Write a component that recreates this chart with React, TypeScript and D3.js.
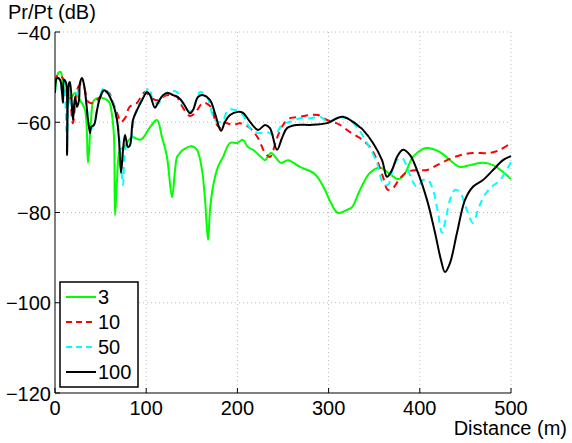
import React from "react";
import * as d3 from "d3";

const xTicks = [0, 100, 200, 300, 400, 500];
const yTicks = [-120, -100, -80, -60, -40];
const seriesNames = ["3", "10", "50", "100"];

const g3x = [0,2.2,4.4,6.6,7.7,11,14.3,17.5,21.9,27.4,32.9,36.2,39.5,42.8,51.5,59.2,62.5,64.7,65.8,68,71.3,75.7,81.1,84.4,93.2,96.5,104.2,111.8,117.3,122.8,128.3,131.6,133.8,137.1,140.4,150.2,155.7,161.2,164.5,167.8,170,173.2,178.7,184.2,191.9,199.6,206.1,211.6,217.1,225.9,230.3,236.8,247.8,255.5,268.6,285.1,296.1,302.6,310.3,320.2,325.7,334.4,345.4,356.4,367.3,376.1,382.7,392.5,403.5,409,422.1,433.1,444.1,455,469.3,480.3,491.2,500];
const g3y = [-53.3,-49.8,-48.9,-48.9,-50,-53.5,-52.9,-54.6,-53.5,-55.1,-57.3,-69,-59.5,-55.1,-54.6,-55.5,-58.4,-63.3,-80.6,-72.8,-66.1,-65.5,-63.9,-63.3,-63.9,-63.5,-61.1,-59.5,-63.3,-67.7,-76.6,-70.6,-67.7,-66.8,-66.1,-65.3,-66.1,-70.6,-77.2,-86.1,-79.4,-74.3,-69.9,-67.7,-64.6,-64.6,-63.9,-65.5,-66.1,-67.7,-68.4,-66.8,-69,-68.4,-69.9,-71.5,-75,-77.9,-80.1,-79.4,-78.8,-75,-71.2,-70.1,-71.5,-72.6,-71.7,-67.7,-65.9,-65.7,-66.6,-68.4,-69.9,-69.5,-69,-69.5,-71,-72.6];

const g10x = [0,3.3,7.7,11,14.3,16.4,19.7,24.1,27.4,31.8,35.1,38.4,42.8,48.2,53.7,59.2,62.5,68,72.4,76.8,81.1,85.5,89.9,98.7,104.2,111.8,122.8,133.8,137.1,148,153.5,162.3,170,177.6,182,186.4,195.2,202.9,213.8,222.6,230.3,235.7,243.4,250,257.7,268.6,279.6,288.4,298.2,304.8,312.5,323.5,334.4,345.4,353.1,359.6,365.1,370.6,378.3,386,396.9,407.9,418.9,429.8,444.1,458.3,477,488,500];
const g10y = [-51.1,-49.5,-50,-51.1,-51.3,-54,-60.2,-52.9,-51.7,-52.2,-55.1,-55.7,-55.7,-54.6,-53.5,-53.5,-55.1,-57.9,-59.9,-59.1,-56.8,-56,-55.7,-53.3,-54.4,-55.1,-54,-54.4,-55.7,-58.6,-58,-55.7,-56.4,-60.6,-61.3,-60.2,-60.6,-60.2,-61.3,-63.5,-66.8,-67.7,-63.5,-60.6,-59.1,-58.8,-58.4,-58.4,-59.5,-59.9,-60.6,-62.2,-63.5,-65.5,-68.4,-72.1,-75,-74.6,-72.4,-71,-70.6,-70.6,-69.5,-68.4,-67.3,-66.8,-66.8,-66.1,-64.6];

const g50x = [0,2.2,5.5,7.7,9.9,13.2,15.4,19.7,23,27.4,29.6,32.9,36.2,38.4,42.8,49.3,53.7,58.1,64.7,69.1,71.3,74.6,76.8,80,83.3,86.6,91,97.6,103.1,107.5,112.9,118.4,123.9,133.8,140.4,148,152.4,159,166.7,175.4,183.1,189.7,197.4,206.1,213.8,222.6,232.5,241.2,248.9,257.7,268.6,279.6,290.6,299.3,309.2,320.2,331.1,342.1,353.1,359.6,365.1,369.5,375,380.5,386,391.4,396.9,403.5,409,414.5,420,424.3,428.7,433.1,438.6,444.1,449.6,458.3,463.8,469.3,477,488,500];
const g50y = [-53.3,-50.2,-50.6,-53.3,-51.1,-63.9,-51.7,-58.4,-54.6,-51.7,-50.4,-52.9,-59.1,-61.9,-60.2,-54.2,-52.4,-53.3,-56.2,-60.6,-66.1,-73.9,-66.1,-64.6,-63.9,-59.1,-56.4,-54,-52.4,-55.1,-55.9,-54.2,-53.3,-53.3,-56,-57.7,-56.6,-53.3,-54.4,-59.5,-59.9,-57.3,-57.3,-58.4,-61.3,-62.4,-62.2,-62.8,-60.6,-59.9,-59.1,-59.1,-58.8,-59.9,-59.1,-59.1,-61.1,-64.6,-69,-73.5,-73.9,-71,-68.4,-67.9,-69.9,-72.8,-74.3,-72.8,-72.8,-75,-80.1,-84.5,-81.2,-77.2,-75,-75.5,-78.3,-82.3,-79.4,-76.8,-74.6,-72.8,-68.8];

const g100x = [0,2.2,5.5,7.7,8.8,9.9,12.1,13.2,15.4,16.4,19.7,21.9,24.1,26.3,27.4,29.6,31.8,34,36.2,38.4,39.5,42.8,46.1,49.3,53.7,57,60.3,64.7,68,70.2,72.4,74.6,76.8,80,82.2,85.5,89.9,95.4,100.9,104.2,109.6,112.9,118.4,123.9,129.4,134.9,140.4,148,151.3,156.8,162.3,170,175.4,182,186.4,191.9,200.7,206.1,213.8,222.6,230.3,235.7,243.4,248.9,254.4,265.4,279.6,298.2,309.2,315.8,326.8,334.4,337.7,348.7,358.6,364,369.5,375,381.6,389.3,396.9,407.9,416.7,423.2,427.6,433.1,440.8,449.6,458.3,469.3,480.3,491.2,500];
const g100y = [-53.5,-50.2,-50.6,-53.5,-55.7,-50.6,-51.3,-67.3,-51.3,-51.1,-59.5,-54.4,-56.6,-55.1,-51.3,-50.2,-51.7,-55.1,-59.5,-62.4,-61.1,-60.6,-57.3,-54.6,-52.9,-53.3,-54.4,-56.6,-59.5,-63.9,-71.2,-66.1,-62.8,-65.5,-65.1,-59.5,-57.3,-55.1,-53.3,-54,-56.8,-55.7,-54,-53.5,-54,-54.4,-55.7,-58,-57.3,-54.4,-54,-55.1,-58,-61.9,-59.9,-58.4,-57.7,-57.9,-59.9,-61.7,-60.6,-61.3,-66.1,-63.5,-61.3,-60.6,-60.6,-60.2,-59.1,-58.8,-59.9,-61.1,-61.7,-64.6,-68.4,-72.1,-70.6,-67.7,-66.1,-67.3,-70.6,-77.2,-84.5,-90.5,-93.2,-91.2,-84.5,-77.2,-74.3,-72.8,-70.6,-68.4,-67.5];

const colors = ["#00ff00", "#ff0000", "#00ffff", "#000000"];
const dashes = ["none", "7,5", "7,5", "none"];
const legendDashes = ["none", "6,4", "6,4", "none"];

const W = 572, H = 443;
const left = 55, right = 511, top = 32, bottom = 393;
const FONT = "'Liberation Sans', Arial, Helvetica, sans-serif";

export default function App() {
  const x = d3.scaleLinear().domain([0, 500]).range([left, right]);
  const y = d3.scaleLinear().domain([-120, -40]).range([bottom, top]);
  const allX = [g3x, g10x, g50x, g100x];
  const allY = [g3y, g10y, g50y, g100y];
  const line = d3
    .line<[number, number]>()
    .x((d) => x(d[0]))
    .y((d) => y(d[1]))
    .curve(d3.curveCatmullRom.alpha(0.5));
  const legendRows = seriesNames.map((_, i) => 297 + i * 25);
  return (
    <svg width={W} height={H} style={{ position: "absolute", left: 0, top: 0, background: "#fff" }} fontFamily={FONT}>
      <defs>
        <clipPath id="plot">
          <rect x={left} y={top - 2} width={right - left + 2} height={bottom - top + 2} />
        </clipPath>
      </defs>
      <rect x={0} y={0} width={W} height={H} fill="#fff" />
      {xTicks.filter((t) => t !== 0).map((t) => (
        <line key={"gx" + t} x1={x(t)} x2={x(t)} y1={top} y2={bottom} stroke="#bbbbbb" strokeWidth={1} strokeDasharray="1,3" />
      ))}
      {yTicks.filter((t) => t !== -120).map((t) => (
        <line key={"gy" + t} x1={left} x2={right} y1={y(t)} y2={y(t)} stroke="#bbbbbb" strokeWidth={1} strokeDasharray="1,3" />
      ))}
      <g clipPath="url(#plot)">
        {allX.map((xs, i) => (
          <path
            key={"s" + i}
            d={line(xs.map((v, j) => [v, allY[i][j]] as [number, number])) || ""}
            fill="none"
            stroke={colors[i]}
            strokeWidth={2}
            strokeDasharray={dashes[i]}
            strokeLinejoin="round"
          />
        ))}
      </g>
      <line x1={left} x2={left} y1={top} y2={bottom} stroke="#000" strokeWidth={1} />
      <line x1={left} x2={right} y1={bottom} y2={bottom} stroke="#000" strokeWidth={1} />
      {xTicks.map((t) => (
        <g key={"tx" + t}>
          <line x1={x(t)} x2={x(t)} y1={bottom} y2={bottom - 5} stroke="#000" />
          <text x={x(t)} y={415} fontSize={20} textAnchor="middle">{t}</text>
        </g>
      ))}
      {yTicks.map((t) => (
        <g key={"ty" + t}>
          <line x1={left} x2={left + 5} y1={y(t)} y2={y(t)} stroke="#000" />
          <text x={51} y={y(t) + 7.5} fontSize={20} textAnchor="end">{t < 0 ? "\u2212" + Math.abs(t) : t}</text>
        </g>
      ))}
      <text x={8} y={19} fontSize={20}>Pr/Pt (dB)</text>
      <text x={567} y={435} fontSize={20} textAnchor="end">Distance (m)</text>
      <rect x={60} y={282} width={78} height={105} fill="#fff" stroke="#000" strokeWidth={1.5} />
      {seriesNames.map((n, i) => (
        <g key={"lg" + i}>
          <line x1={66} x2={96} y1={legendRows[i]} y2={legendRows[i]} stroke={colors[i]} strokeWidth={2} strokeDasharray={legendDashes[i]} />
          <text x={98} y={legendRows[i] + 7} fontSize={20}>{n}</text>
        </g>
      ))}
    </svg>
  );
}
